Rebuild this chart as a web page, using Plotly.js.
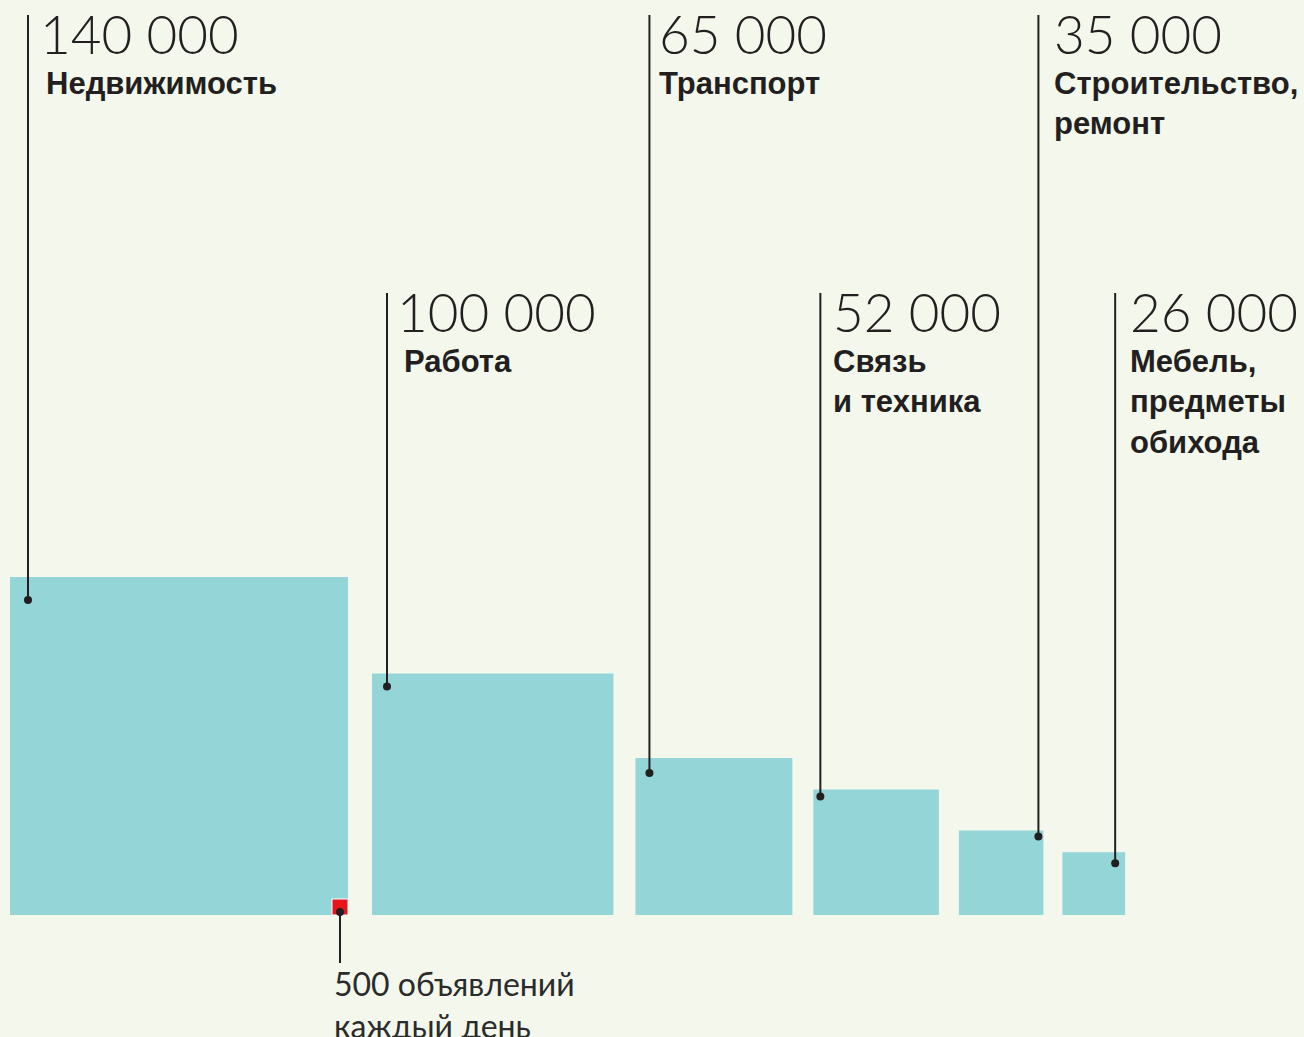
<!DOCTYPE html>
<html>
<head>
<meta charset="utf-8">
<script src="https://cdn.plot.ly/plotly-3.0.1.min.js"></script>
<style>
  html, body { margin: 0; padding: 0; background: #f4f8ec; }
  #chart { width: 1304px; height: 1037px; }
</style>
</head>
<body>
<div id="chart"></div>
<script>
// ---- data ----
const categories = ['Недвижимость', 'Работа', 'Транспорт', 'Связь<br>и техника', 'Строительство,<br>ремонт', 'Мебель,<br>предметы<br>обихода'];
const values = [140000, 100000, 65000, 52000, 35000, 26000];
const valueLabels = ['140 000', '100 000', '65 000', '52 000', '35 000', '26 000'];
const unitValue = 500;
const unitLabel = '500 объявлений<br>каждый день';

// ---- layout constants (pixels) ----
const W = 1304, H = 1037;
const PX = 338 / 140;          // pixels per 1 000 ads (square side ∝ value)
const left0 = 10, baseline = 915;
const gapsPx = [24, 22, 21, 20, 19];
const dotOffsets = [[18, 23, 'l'], [15, 13, 'l'], [14, 15, 'l'], [7, 7, 'l'], [5, 6, 'r'], [10, 11, 'r']];
const numShiftPx = [10, 8, 8, 11, 14, 13];
const labelShiftPx = [16, 15, 8, 11, 14, 13];
const rowTopPx = [15, 293];
const ink = '#231f20';
const thinFont = 'Lato, "Open Sans", sans-serif';
const boldFont = '"Liberation Sans", Arial, sans-serif';

const u = px => px / PX; // px -> data units
const sides = values.map(v => v / 1000);
const lefts = [];
let cur = 0;
sides.forEach((s, i) => { lefts.push(cur); cur += s + u(gapsPx[i] || 0); });

const traces = [];
traces.push({
  type: 'bar',
  x: sides.map((s, i) => lefts[i] + s / 2),
  y: sides,
  width: sides,
  base: 0,
  marker: { color: '#94d5d8', line: { width: 0 } },
  hoverinfo: 'skip'
});

const lineX = [], lineY = [], dotX = [], dotY = [];
const annotations = [];
sides.forEach((s, i) => {
  const [ox, oy, side] = dotOffsets[i];
  const dx = side === 'l' ? lefts[i] + u(ox) : lefts[i] + s - u(ox);
  const dy = s - u(oy);
  const topY = (baseline - rowTopPx[i % 2]) / PX;
  lineX.push(dx, dx, null);
  lineY.push(dy, topY, null);
  dotX.push(dx); dotY.push(dy);
  annotations.push({
    x: dx, y: topY, xref: 'x', yref: 'y', xanchor: 'left', yanchor: 'top',
    xshift: numShiftPx[i], yshift: 15, showarrow: false, align: 'left',
    text: valueLabels[i],
    font: { family: thinFont, size: 53, color: ink, weight: 300 }
  });
  annotations.push({
    x: dx, y: topY, xref: 'x', yref: 'y', xanchor: 'left', yanchor: 'top',
    xshift: labelShiftPx[i], yshift: -49, showarrow: false, align: 'left',
    text: '<b>' + categories[i] + '</b>',
    font: { family: boldFont, size: 31, color: ink }
  });
});

// unit square (500 ads)
const unitX = lefts[0] + sides[0] - u(8);
const unitY = u(8);
const unitDotY = u(3);
const unitLineEnd = -u(48);
lineX.push(unitX, unitX, null);
lineY.push(unitDotY, unitLineEnd, null);

traces.push({
  type: 'scatter', mode: 'markers', x: [unitX], y: [unitY],
  marker: { symbol: 'square', size: 16, color: '#e8141c', line: { color: '#ffffff', width: 1 } },
  hoverinfo: 'skip'
});
traces.push({
  type: 'scatter', mode: 'lines', x: lineX, y: lineY,
  line: { color: ink, width: 2 }, hoverinfo: 'skip'
});
dotX.push(unitX); dotY.push(unitDotY);
traces.push({
  type: 'scatter', mode: 'markers', x: dotX, y: dotY,
  marker: { color: ink, size: 8 }, hoverinfo: 'skip'
});
annotations.push({
  x: unitX, y: unitLineEnd, xref: 'x', yref: 'y', xanchor: 'left', yanchor: 'top',
  xshift: -8, yshift: 1, showarrow: false, align: 'left',
  text: unitLabel,
  font: { family: thinFont, size: 32, color: '#2b2b2b', weight: 400 }
});

const layout = {
  width: W, height: H,
  margin: { l: 0, r: 0, t: 0, b: 0 },
  paper_bgcolor: '#f4f8ec', plot_bgcolor: '#f4f8ec',
  showlegend: false,
  xaxis: { range: [-u(left0), u(W - left0)], visible: false, fixedrange: true },
  yaxis: { range: [-u(H - baseline), u(baseline)], visible: false, fixedrange: true },
  annotations: annotations
};

Plotly.newPlot('chart', traces, layout, { displayModeBar: false, staticPlot: true });
</script>
</body>
</html>
